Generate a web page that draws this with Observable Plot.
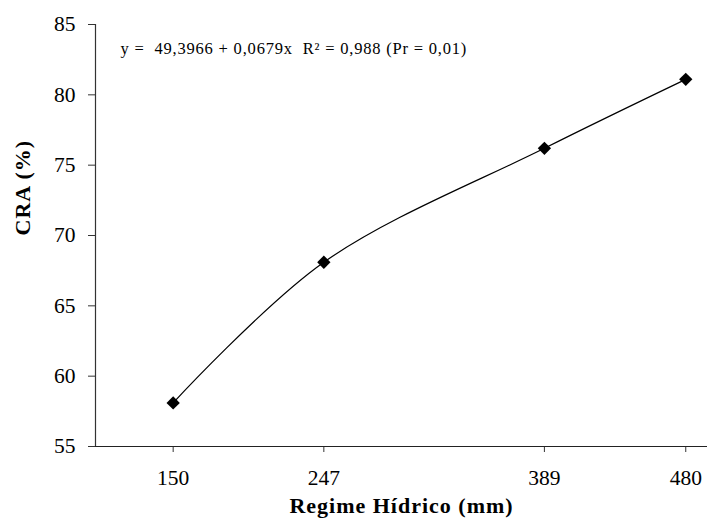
<!DOCTYPE html>
<html>
<head>
<meta charset="utf-8">
<script src="https://cdn.jsdelivr.net/npm/d3@7"></script>
<script src="https://cdn.jsdelivr.net/npm/@observablehq/plot@0.6"></script>
<style>
  html, body { margin: 0; padding: 0; background: #fff; }
  #chart svg, #chart svg text { font-family: 'Liberation Serif', 'Times New Roman', serif !important; }
</style>
</head>
<body>
<div id="chart"></div>
<script>
const regime = [150, 247, 389, 480];
const cra = [58.1, 68.1, 76.2, 81.1];
const yTicks = [55, 60, 65, 70, 75, 80, 85];
const equation = "y =  49,3966 + 0,0679x  R² = 0,988 (Pr = 0,01)";
const xTitle = "Regime Hídrico (mm)";
const yTitle = "CRA (%)";

const data = regime.map((x, i) => ({x, y: cra[i]}));
const font = "'Liberation Serif', 'Times New Roman', serif";

const chart = Plot.plot({
  width: 707,
  height: 520,
  marginLeft: 95,
  marginRight: 0,
  marginTop: 24,
  marginBottom: 74,
  style: {fontFamily: font, fontSize: "21px", color: "#000", background: "#fff"},
  x: {domain: [100, 494], label: null},
  y: {domain: [55, 85], label: null},
  marks: [
    Plot.axisY({ticks: yTicks, tickSize: 7, tickPadding: 13, tickFormat: d => String(d), stroke: "#333", fontSize: 21.5, fontFamily: font}),
    Plot.axisX({ticks: regime, tickSize: 6, tickPadding: 17, tickFormat: d => String(d), stroke: "#333", fontSize: 21.5, fontFamily: font}),
    Plot.ruleX([100], {stroke: "#333", strokeWidth: 1.2}),
    Plot.ruleY([55], {stroke: "#222", strokeWidth: 1.2}),
    Plot.line(data, {x: "x", y: "y", curve: "catmull-rom", stroke: "#000", strokeWidth: 1.2}),
    Plot.dot(data, {x: "x", y: "y", symbol: "diamond2", r: 6, fill: "#000", stroke: "none"}),
    Plot.text([equation], {frameAnchor: "top-left", dx: 25, dy: 29, lineAnchor: "bottom", textAnchor: "start", fontSize: 16.5, fontFamily: font, fill: "#000"}),
    Plot.text([xTitle], {frameAnchor: "bottom", dy: 66, lineAnchor: "bottom", fontSize: 22, fontWeight: "bold", fontFamily: font, fill: "#000"}),
    Plot.text([yTitle], {frameAnchor: "left", dx: -73, rotate: -90, fontSize: 22, fontWeight: "bold", fontFamily: font, fill: "#000"})
  ]
});
d3.select(chart).selectAll("text").each(function() {
  const t = this.textContent;
  if (t === xTitle || t === yTitle) this.setAttribute("letter-spacing", "1");
  else if (t === equation) this.setAttribute("letter-spacing", "0.8");
});
document.getElementById("chart").appendChild(chart);
</script>
</body>
</html>
